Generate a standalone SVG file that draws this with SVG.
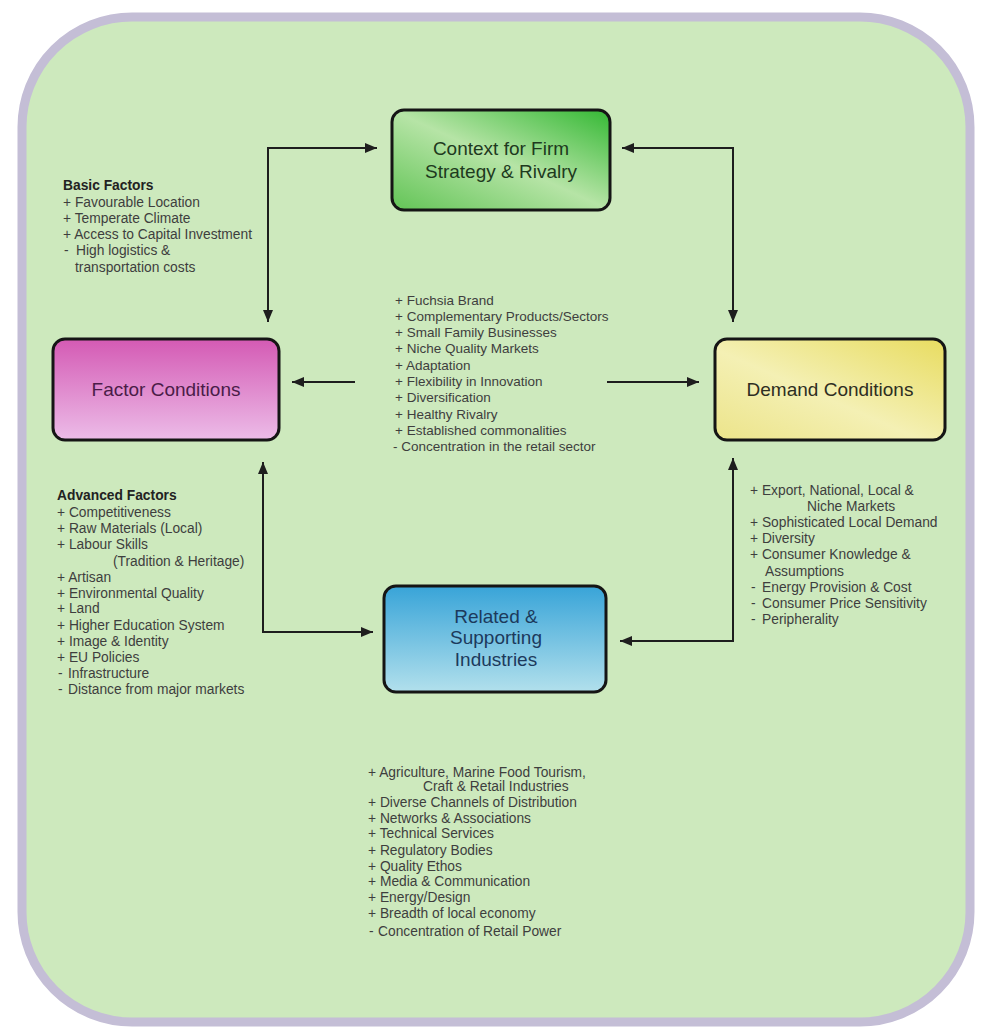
<svg xmlns="http://www.w3.org/2000/svg" width="984" height="1028" viewBox="0 0 984 1028">
  <defs>
    <style>
      .lst { font-family: "Liberation Sans", Arial, sans-serif; font-size: 13.8px; fill: #3e3e3e; }
      .hd { font-family: "Liberation Sans", Arial, sans-serif; font-size: 13.8px; font-weight: bold; fill: #222; }
      .nt { font-family: "Liberation Sans", Arial, sans-serif; font-size: 19px; text-anchor: middle; }
      .box { stroke: #151515; stroke-width: 3; }
      .con { fill: none; stroke: #1e1e1e; stroke-width: 2; }
    </style>
    <marker id="ah" viewBox="0 0 12 10" refX="12" refY="5" markerWidth="12" markerHeight="10" markerUnits="userSpaceOnUse" orient="auto-start-reverse">
      <path d="M0,0 L12,5 L0,10 z" fill="#1e1e1e"/>
    </marker>
    <linearGradient id="gGreen" x1="1" y1="0" x2="0" y2="1">
      <stop offset="0" stop-color="#34b834"/>
      <stop offset="0.5" stop-color="#b6e4a6"/>
      <stop offset="1" stop-color="#62c456"/>
    </linearGradient>
    <linearGradient id="gPink" x1="0" y1="0" x2="0" y2="1">
      <stop offset="0" stop-color="#d45ab4"/>
      <stop offset="1" stop-color="#ecbce8"/>
    </linearGradient>
    <linearGradient id="gYellow" x1="1" y1="0" x2="0" y2="1">
      <stop offset="0" stop-color="#e8dc60"/>
      <stop offset="0.55" stop-color="#f4f0b4"/>
      <stop offset="1" stop-color="#ece48a"/>
    </linearGradient>
    <linearGradient id="gBlue" x1="0" y1="0" x2="0" y2="1">
      <stop offset="0" stop-color="#38a4d8"/>
      <stop offset="1" stop-color="#b2e0ec"/>
    </linearGradient>
  </defs>

  <rect x="0" y="0" width="984" height="1028" fill="#ffffff"/>
  <rect id="frame" x="22" y="17" width="948" height="1005" rx="110" ry="110" fill="#cde9bd" stroke="#c4bed6" stroke-width="9"/>

  <g id="connectors">
    <path class="con" d="M377,148 H268 V322" marker-start="url(#ah)" marker-end="url(#ah)"/>
    <path class="con" d="M622,148 H733 V322" marker-start="url(#ah)" marker-end="url(#ah)"/>
    <path class="con" d="M263,462 V632 H373" marker-start="url(#ah)" marker-end="url(#ah)"/>
    <path class="con" d="M620,641 H733 V458" marker-start="url(#ah)" marker-end="url(#ah)"/>
    <path class="con" d="M355,382 H292" marker-end="url(#ah)"/>
    <path class="con" d="M607,382 H699" marker-end="url(#ah)"/>
  </g>

  <g id="node-context">
    <rect class="box" x="392" y="110" width="218" height="100" rx="12" fill="url(#gGreen)"/>
    <text class="nt" x="501" y="155" fill="#1e3a1e">Context for Firm</text>
    <text class="nt" x="501" y="178" fill="#1e3a1e">Strategy &amp; Rivalry</text>
  </g>

  <g id="node-factor">
    <rect class="box" x="53" y="339" width="226" height="101" rx="12" fill="url(#gPink)"/>
    <text class="nt" x="166" y="396" fill="#4a1c48">Factor Conditions</text>
  </g>

  <g id="node-demand">
    <rect class="box" x="715" y="339" width="230" height="101" rx="12" fill="url(#gYellow)"/>
    <text class="nt" x="830" y="396" fill="#2e2e22">Demand Conditions</text>
  </g>

  <g id="node-related">
    <rect class="box" x="384" y="586" width="222" height="106" rx="12" fill="url(#gBlue)"/>
    <text class="nt" x="496" y="623" fill="#1c3a5c">Related &amp;</text>
    <text class="nt" x="496" y="644" fill="#1c3a5c">Supporting</text>
    <text class="nt" x="496" y="666" fill="#1c3a5c">Industries</text>
  </g>

  <g id="basic-factors">
    <text class="hd" x="63" y="190">Basic Factors</text>
    <text class="lst" x="63" y="206.5">+ Favourable Location</text>
    <text class="lst" x="63" y="222.5">+ Temperate Climate</text>
    <text class="lst" x="63" y="238.5">+ Access to Capital Investment</text>
    <text class="lst" x="64" y="255">-</text>
    <text class="lst" x="76" y="255">High logistics &amp;</text>
    <text class="lst" x="75" y="271.5">transportation costs</text>
  </g>

  <g id="core-list">
    <text class="lst" x="395" y="304.5" style="font-size:13.5px">+ Fuchsia Brand</text>
    <text class="lst" x="395" y="320.8" style="font-size:13.5px">+ Complementary Products/Sectors</text>
    <text class="lst" x="395" y="337.1" style="font-size:13.5px">+ Small Family Businesses</text>
    <text class="lst" x="395" y="353.4" style="font-size:13.5px">+ Niche Quality Markets</text>
    <text class="lst" x="395" y="369.7" style="font-size:13.5px">+ Adaptation</text>
    <text class="lst" x="395" y="386" style="font-size:13.5px">+ Flexibility in Innovation</text>
    <text class="lst" x="395" y="402.3" style="font-size:13.5px">+ Diversification</text>
    <text class="lst" x="395" y="418.6" style="font-size:13.5px">+ Healthy Rivalry</text>
    <text class="lst" x="395" y="434.9" style="font-size:13.5px">+ Established commonalities</text>
    <text class="lst" x="393" y="451.2" style="font-size:13.5px">- Concentration in the retail sector</text>
  </g>

  <g id="advanced-factors">
    <text class="hd" x="57" y="500">Advanced Factors</text>
    <text class="lst" x="57" y="516.5">+ Competitiveness</text>
    <text class="lst" x="57" y="532.7">+ Raw Materials (Local)</text>
    <text class="lst" x="57" y="548.9">+ Labour Skills</text>
    <text class="lst" x="113" y="566">(Tradition &amp; Heritage)</text>
    <text class="lst" x="57" y="581.5">+ Artisan</text>
    <text class="lst" x="57" y="597.5">+ Environmental Quality</text>
    <text class="lst" x="57" y="613">+ Land</text>
    <text class="lst" x="57" y="629.5">+ Higher Education System</text>
    <text class="lst" x="57" y="645.5">+ Image &amp; Identity</text>
    <text class="lst" x="57" y="661.5">+ EU Policies</text>
    <text class="lst" x="58" y="677.5">-</text>
    <text class="lst" x="68" y="677.5">Infrastructure</text>
    <text class="lst" x="58" y="694">-</text>
    <text class="lst" x="68" y="694">Distance from major markets</text>
  </g>

  <g id="demand-list">
    <text class="lst" x="750" y="494.5">+ Export, National, Local &amp;</text>
    <text class="lst" x="807" y="511">Niche Markets</text>
    <text class="lst" x="750" y="526.5">+ Sophisticated Local Demand</text>
    <text class="lst" x="750" y="542.5">+ Diversity</text>
    <text class="lst" x="750" y="559">+ Consumer Knowledge &amp;</text>
    <text class="lst" x="765" y="576">Assumptions</text>
    <text class="lst" x="751" y="591.5">-</text>
    <text class="lst" x="762" y="591.5">Energy Provision &amp; Cost</text>
    <text class="lst" x="751" y="607.5">-</text>
    <text class="lst" x="762" y="607.5">Consumer Price Sensitivity</text>
    <text class="lst" x="751" y="624">-</text>
    <text class="lst" x="762" y="624">Peripherality</text>
  </g>

  <g id="related-list">
    <text class="lst" x="368" y="776.5">+ Agriculture, Marine Food Tourism,</text>
    <text class="lst" x="423" y="791">Craft &amp; Retail Industries</text>
    <text class="lst" x="368" y="806.5">+ Diverse Channels of Distribution</text>
    <text class="lst" x="368" y="822.5">+ Networks &amp; Associations</text>
    <text class="lst" x="368" y="838">+ Technical Services</text>
    <text class="lst" x="368" y="854.5">+ Regulatory Bodies</text>
    <text class="lst" x="368" y="870.5">+ Quality Ethos</text>
    <text class="lst" x="368" y="886">+ Media &amp; Communication</text>
    <text class="lst" x="368" y="902">+ Energy/Design</text>
    <text class="lst" x="368" y="918">+ Breadth of local economy</text>
    <text class="lst" x="369" y="936">-</text>
    <text class="lst" x="378" y="936">Concentration of Retail Power</text>
  </g>
</svg>
